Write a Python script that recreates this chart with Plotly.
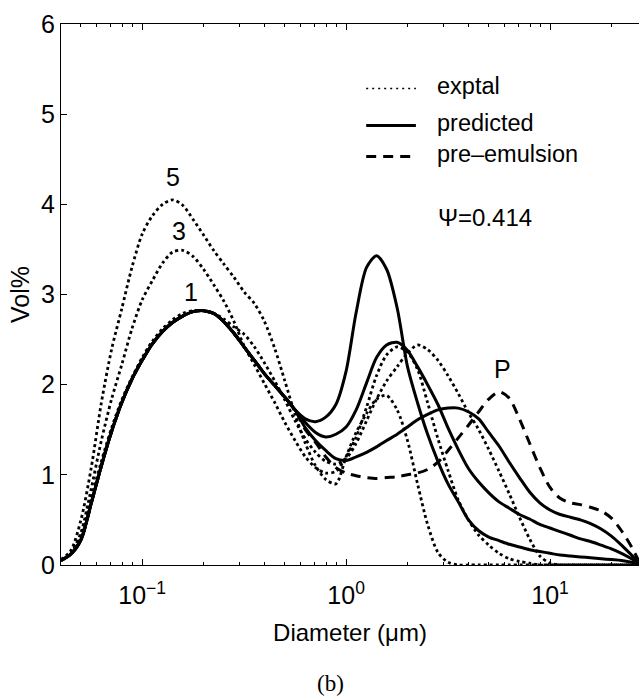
import math
import plotly.graph_objects as go

# ---------------- data ----------------
diameter_um = [0.04, 0.0447, 0.0501, 0.0562, 0.0631, 0.0708, 0.0794, 0.0891,
               0.1, 0.112, 0.126, 0.141, 0.158, 0.178, 0.2, 0.224, 0.251, 0.282,
               0.316, 0.355, 0.398, 0.447, 0.501, 0.562, 0.631, 0.708, 0.794,
               0.891, 1.0, 1.12, 1.26, 1.41, 1.58, 1.78, 2.0, 2.24, 2.51, 2.82,
               3.16, 3.55, 3.98, 4.47, 5.01, 5.62, 6.31, 7.08, 7.94, 8.91, 10.0,
               11.2, 12.6, 14.1, 15.8, 17.8, 20.0, 22.4, 25.1, 27.3]

# shared first peak of the predicted / pre-emulsion curves (first 24 points)
first_peak = [0.05, 0.12, 0.28, 0.68, 1.10, 1.48, 1.80, 2.06, 2.27, 2.45, 2.59,
              2.69, 2.76, 2.81, 2.82, 2.79, 2.70, 2.57, 2.42, 2.27, 2.12, 1.99,
              1.86, 1.72]

pred_tail_a = [1.62, 1.59, 1.64, 1.78, 2.15, 2.80, 3.30, 3.43, 3.28, 2.85, 2.20,
               1.80, 1.45, 1.15, 0.90, 0.70, 0.50, 0.38, 0.31, 0.27, 0.23, 0.20,
               0.17, 0.15, 0.13, 0.11, 0.10, 0.09, 0.08, 0.07, 0.06, 0.05, 0.03,
               0.01]
pred_tail_b = [1.58, 1.47, 1.42, 1.45, 1.53, 1.72, 2.02, 2.30, 2.44, 2.47, 2.38,
               2.20, 2.00, 1.78, 1.52, 1.28, 1.07, 0.92, 0.80, 0.70, 0.63, 0.56,
               0.51, 0.45, 0.41, 0.37, 0.33, 0.29, 0.26, 0.22, 0.18, 0.13, 0.07,
               0.02]
pred_tail_c = [1.52, 1.38, 1.27, 1.18, 1.16, 1.20, 1.25, 1.31, 1.38, 1.45, 1.53,
               1.61, 1.67, 1.72, 1.74, 1.74, 1.70, 1.62, 1.47, 1.32, 1.14, 0.97,
               0.81, 0.69, 0.61, 0.56, 0.53, 0.50, 0.46, 0.40, 0.32, 0.22, 0.11,
               0.03]
pre_emulsion_tail = [1.50, 1.36, 1.20, 1.08, 1.02, 0.99, 0.97, 0.96, 0.97, 0.98,
                     1.00, 1.02, 1.06, 1.14, 1.27, 1.41, 1.55, 1.70, 1.84, 1.92,
                     1.85, 1.62, 1.35, 1.08, 0.86, 0.74, 0.69, 0.67, 0.64, 0.60,
                     0.52, 0.38, 0.20, 0.04]

exptal_1 = [0.06, 0.14, 0.32, 0.74, 1.15, 1.52, 1.83, 2.08, 2.30, 2.48, 2.62,
            2.72, 2.79, 2.82, 2.82, 2.79, 2.73, 2.64, 2.56, 2.42, 2.24, 2.04,
            1.83, 1.60, 1.40, 1.25, 1.15, 1.12, 1.18, 1.35, 1.60, 1.84, 2.04,
            2.20, 2.35, 2.44, 2.39, 2.27, 2.10, 1.90, 1.69, 1.50, 1.28, 1.04,
            0.79, 0.53, 0.29, 0.10, 0.02, 0, 0, 0, 0, 0, 0, 0, 0, 0]
exptal_3 = [0.05, 0.13, 0.36, 0.84, 1.38, 1.84, 2.22, 2.62, 2.94, 3.15, 3.35,
            3.47, 3.49, 3.42, 3.28, 3.11, 2.93, 2.70, 2.43, 2.22, 2.01, 1.80,
            1.58, 1.38, 1.20, 1.08, 1.02, 1.04, 1.20, 1.42, 1.75, 2.10, 2.33,
            2.42, 2.36, 2.17, 1.80, 1.40, 1.05, 0.72, 0.50, 0.33, 0.22, 0.13,
            0.07, 0.04, 0.02, 0, 0, 0, 0, 0, 0, 0, 0, 0, 0, 0]
exptal_5 = [0.06, 0.16, 0.50, 1.07, 1.80, 2.39, 2.84, 3.30, 3.67, 3.87, 4.00,
            4.05, 3.99, 3.83, 3.66, 3.49, 3.34, 3.19, 3.03, 2.90, 2.70, 2.40,
            2.04, 1.67, 1.35, 1.10, 0.95, 0.90, 1.20, 1.47, 1.68, 1.84, 1.88,
            1.72, 1.38, 0.90, 0.45, 0.14, 0.03, 0, 0, 0, 0, 0, 0, 0, 0, 0, 0,
            0, 0, 0, 0, 0, 0, 0, 0, 0]

predicted = [first_peak + pred_tail_a, first_peak + pred_tail_b,
             first_peak + pred_tail_c]
pre_emulsion = first_peak + pre_emulsion_tail
exptal = [exptal_1, exptal_3, exptal_5]

major_ticks = [0.1, 1, 10]
major_labels = ["10<sup>\u22121</sup>", "10<sup>0</sup>", "10<sup>1</sup>"]
minor_ticks = [0.05, 0.06, 0.07, 0.08, 0.09, 0.2, 0.3, 0.4, 0.5, 0.6, 0.7,
               0.8, 0.9, 2, 3, 4, 5, 6, 7, 8, 9, 20]
y_ticks = [0, 1, 2, 3, 4, 5, 6]

curve_labels = [("5", 0.141, 4.30), ("3", 0.151, 3.70), ("1", 0.174, 3.03),
                ("P", 5.84, 2.17)]
psi_label = ("\u03a8=0.414", 4.82, 3.85)

legend_items = [("exptal", "dot"), ("predicted", "solid"),
                ("pre\u2013emulsion", "dash")]

# ---------------- figure ----------------
SANS = "Liberation Sans, Arial, sans-serif"
DOT = "3px,3px"
DASH = "10px,7px"

fig = go.Figure()

fig.add_trace(go.Scatter(x=diameter_um, y=pre_emulsion, mode="lines",
                         line=dict(color="black", width=3, dash=DASH,
                                   shape="spline", smoothing=0.8),
                         showlegend=False))
for ys in predicted:
    fig.add_trace(go.Scatter(x=diameter_um, y=ys, mode="lines",
                             line=dict(color="black", width=3,
                                       shape="spline", smoothing=0.8),
                             showlegend=False))
for ys in exptal:
    fig.add_trace(go.Scatter(x=diameter_um, y=ys, mode="lines",
                             line=dict(color="black", width=2.8, dash=DOT,
                                       shape="spline", smoothing=0.8),
                             showlegend=False))

annotations = []
for txt, xv, yv in curve_labels:
    annotations.append(dict(x=math.log10(xv), y=yv, xref="x", yref="y",
                            text=txt, showarrow=False,
                            font=dict(family=SANS, size=25, color="black")))
annotations.append(dict(x=math.log10(psi_label[1]), y=psi_label[2], xref="x",
                        yref="y", text=psi_label[0], showarrow=False,
                        font=dict(family=SANS, size=24, color="black")))

# hand-made legend (paper coordinates)
leg_rows_y = [0.881, 0.8125, 0.755]
shapes = []
dash_map = {"dot": "2px,4px", "solid": "solid", "dash": DASH}
width_map = {"dot": 1.5, "solid": 3, "dash": 3}
for (name, style), yy in zip(legend_items, leg_rows_y):
    shapes.append(dict(type="line", xref="paper", yref="paper",
                       x0=0.528, x1=0.614, y0=yy, y1=yy,
                       line=dict(color="black", width=width_map[style],
                                 dash=dash_map[style])))
    annotations.append(dict(x=0.647, y=yy + 0.004, xref="paper", yref="paper",
                            text=name, showarrow=False, xanchor="left",
                            yanchor="middle",
                            font=dict(family=SANS, size=23.5, color="black")))

annotations.append(dict(x=0.467, y=-0.219, xref="paper", yref="paper",
                        text="(b)", showarrow=False, yanchor="middle",
                        font=dict(family="Liberation Serif, Times New Roman, serif",
                                  size=23, color="black")))

fig.update_layout(
    width=639, height=700,
    margin=dict(l=61, r=0, t=24, b=135),
    paper_bgcolor="white", plot_bgcolor="white",
    font=dict(family=SANS, color="black"),
    annotations=annotations, shapes=shapes,
    xaxis=dict(type="log",
               range=[math.log10(0.04), math.log10(27.3)],
               tickmode="array", tickvals=major_ticks, ticktext=major_labels,
               ticks="inside", ticklen=6, tickwidth=1.3, tickcolor="black",
               ticklabelstandoff=8,
               minor=dict(tickmode="array", tickvals=minor_ticks,
                          ticks="inside", ticklen=3, tickwidth=1.3,
                          tickcolor="black", showgrid=False),
               showline=True, linecolor="black", linewidth=1.3,
               mirror="ticks", showgrid=False, zeroline=False,
               tickfont=dict(family=SANS, size=25, color="black"),
               title=dict(text="Diameter (\u03bcm)", standoff=16,
                          font=dict(family=SANS, size=24, color="black"))),
    yaxis=dict(range=[0, 6], tickmode="array", tickvals=y_ticks,
               ticks="inside", ticklen=6, tickwidth=1.3, tickcolor="black",
               showline=True, linecolor="black", linewidth=1.3,
               showgrid=False, zeroline=False,
               tickfont=dict(family=SANS, size=25, color="black"),
               title=dict(text="Vol%", standoff=4,
                          font=dict(family=SANS, size=25, color="black"))),
)

fig.write_html("out.html")
